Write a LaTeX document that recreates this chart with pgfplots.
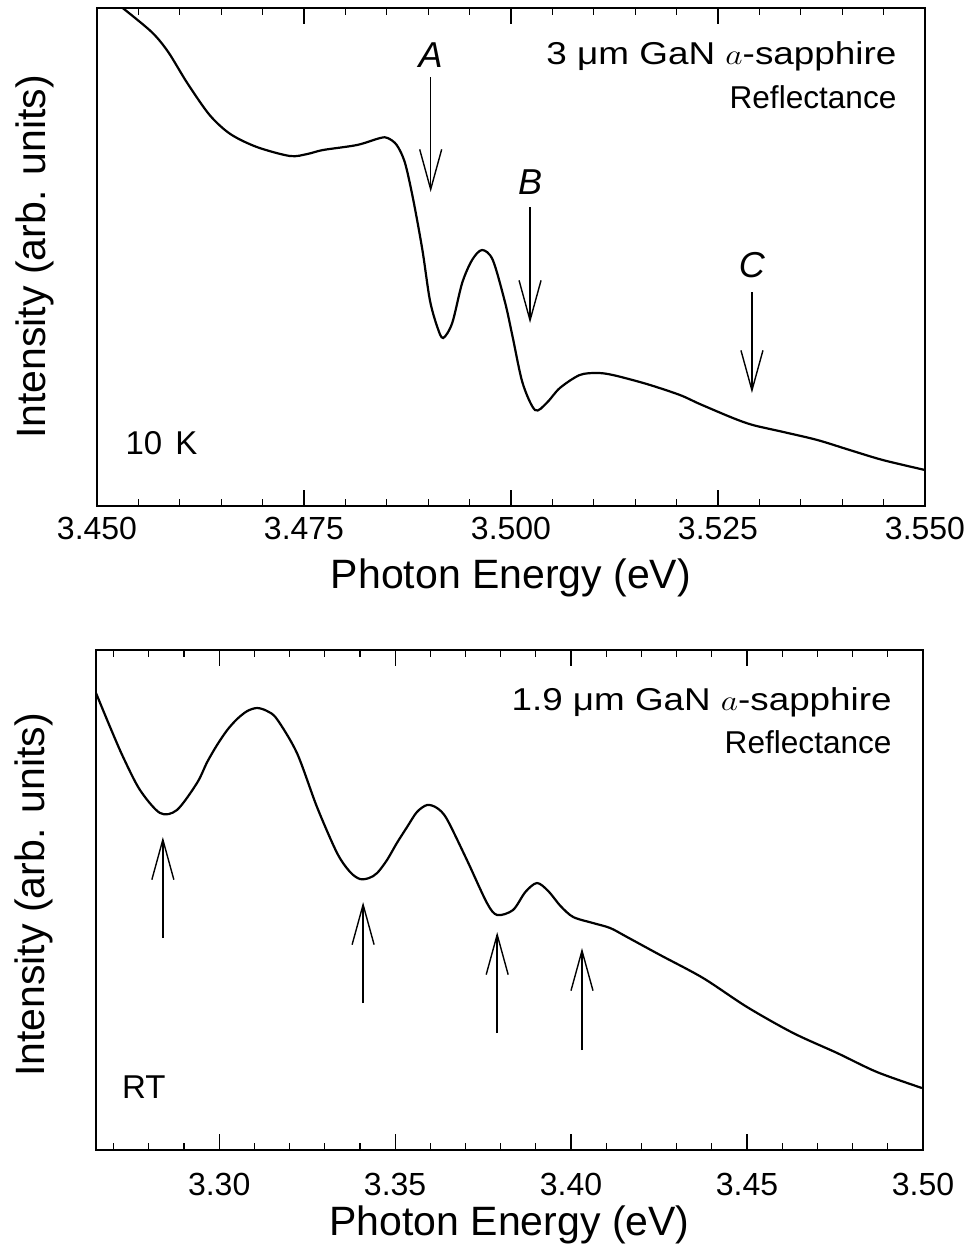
\documentclass[border=0pt]{standalone}
\usepackage{pgfplots}
\pgfplotsset{compat=1.18}
\usepackage{fontspec}
\setmainfont{Liberation Sans}
\usetikzlibrary{arrows.meta}
\pgfplotsset{
  common/.style={
    scale only axis,
    axis line style={line width=0.75pt},
    ytick=\empty,
    tick align=inside,
    major tick length=8pt, minor tick length=3.5pt,
    every tick/.style={line width=0.6pt, black},
    tick label style={font=\fontsize{16}{16}\selectfont},
    /pgf/number format/assume math mode=true,
    label style={font=\fontsize{20.5}{20.5}\selectfont},
    ylabel style={at={(axis description cs:-0.075,0.5)}, anchor=center, rotate=0},
  },
  curve/.style={black, line width=1.1pt, smooth, tension=0.5},
}
\tikzset{
  arr/.style={line width=0.7pt, -{Straight Barb[length=20pt,width=11pt,line width=0.7pt]}},
  note/.style={font=\fontsize{15.8}{15.8}\selectfont, inner sep=0pt},
  inote/.style={font=\fontsize{18}{18}\selectfont\itshape, inner sep=0pt},
}
\begin{document}
\begin{tikzpicture}
\useasboundingbox (0pt,0pt) rectangle (485.5pt,-629pt);
% ---------- top panel (10 K) ----------
\begin{axis}[common,
  at={(48.5pt,-253pt)}, anchor=south west,
  width=414pt, height=249pt,
  xmin=3.45, xmax=3.55, ymin=0, ymax=498,
  xtick={3.450,3.475,3.500,3.525,3.550},
  xticklabels={3.450,3.475,3.500,3.525,3.550},
  minor xtick={3.455,3.46,3.465,3.47,3.48,3.485,3.49,3.495,3.505,3.51,3.515,3.52,3.53,3.535,3.54,3.545},
  xticklabel style={yshift=-2pt},
  xlabel={Photon Energy (eV)},
  xlabel style={at={(axis description cs:0.5,-0.145)}, anchor=center},
  ylabel={Intensity (arb. units)},
]
\addplot[curve] table {
3.4531 498
3.4566 474
3.4586 454
3.4609 423
3.4636 391
3.4661 372
3.4693 359
3.4733 350
3.4754 352
3.4773 356
3.4814 361
3.4842 368
3.4851 368
3.4862 361
3.4872 343
3.4882 306
3.4893 256
3.4902 206
3.4911 179
3.4918 168
3.4929 183
3.4941 223
3.4953 246
3.4965 256
3.4978 246
3.4993 203
3.5002 169
3.5014 123
3.5029 96
3.5043 103
3.5059 118
3.5083 131
3.5104 133
3.5123 131
3.5164 122
3.5204 111
3.5228 102
3.5268 88
3.5292 81
3.5329 74
3.5370 66
3.5409 56
3.5449 46
3.5500 36
};
\draw[arr] (axis cs:3.4903,429) -- (axis cs:3.4903,314);
\draw[arr] (axis cs:3.5023,299) -- (axis cs:3.5023,183);
\draw[arr] (axis cs:3.5291,214) -- (axis cs:3.5291,113);
\node[inote] at (axis cs:3.4903,451) {A};
\node[inote] at (axis cs:3.5023,324) {B};
\node[inote] at (axis cs:3.5291,241) {C};
\node[note, anchor=east] at (rel axis cs:0.966,0.902) {\resizebox{175pt}{\height}{3 μm GaN $a$-sapphire}};
\node[note, anchor=east] at (rel axis cs:0.966,0.821) {Reflectance};
\node[note, font=\fontsize{16.5}{16.5}\selectfont, anchor=west] at (rel axis cs:0.034,0.127) {10\hspace{0.4em}K};
\end{axis}
% ---------- bottom panel (RT) ----------
\begin{axis}[common,
  at={(48pt,-575pt)}, anchor=south west,
  width=413.5pt, height=250pt,
  xmin=3.265, xmax=3.50, ymin=0, ymax=500,
  xtick={3.30,3.35,3.40,3.45,3.50},
  xticklabels={3.30,3.35,3.40,3.45,3.50},
  minor xtick={3.27,3.28,3.29,3.31,3.32,3.33,3.34,3.36,3.37,3.38,3.39,3.41,3.42,3.43,3.44,3.46,3.47,3.48,3.49},
  xticklabel style={yshift=-8pt},
  xlabel={Photon Energy (eV)},
  xlabel style={at={(axis description cs:0.5,-0.15)}, anchor=center},
  ylabel={Intensity (arb. units)},
  ylabel style={at={(axis description cs:-0.075,0.51)}},
]
\addplot[curve] table {
3.2650 457
3.2690 423
3.2727 393
3.2775 360
3.2832 337
3.2880 340
3.2937 367
3.2966 388
3.2994 405
3.3023 420
3.3051 431
3.3080 439
3.3108 442
3.3136 439
3.3164 431
3.3221 397
3.3278 343
3.3335 297
3.3372 278
3.3400 271
3.3426 272
3.3449 277
3.3477 290
3.3505 307
3.3534 323
3.3562 338
3.3591 345
3.3619 342
3.3647 331
3.3704 290
3.3761 247
3.3790 235
3.3835 240
3.3870 258
3.3903 267
3.3935 259
3.3970 244
3.4006 233
3.4062 227
3.4111 222
3.4159 213
3.4253 195
3.4375 172
3.4500 143
3.4631 117
3.4756 97
3.4869 78
3.4997 62
};
\draw[arr] (axis cs:3.2840,212) -- (axis cs:3.2840,313);
\draw[arr] (axis cs:3.3409,147) -- (axis cs:3.3409,248);
\draw[arr] (axis cs:3.3790,117) -- (axis cs:3.3790,218);
\draw[arr] (axis cs:3.4031,100) -- (axis cs:3.4031,202);
\node[note, anchor=east] at (rel axis cs:0.9625,0.896) {\resizebox{190pt}{\height}{1.9 μm GaN $a$-sapphire}};
\node[note, anchor=east] at (rel axis cs:0.9625,0.816) {Reflectance};
\node[note, font=\fontsize{16.5}{16.5}\selectfont, anchor=west] at (rel axis cs:0.031,0.126) {RT};
\end{axis}
\end{tikzpicture}
\end{document}
